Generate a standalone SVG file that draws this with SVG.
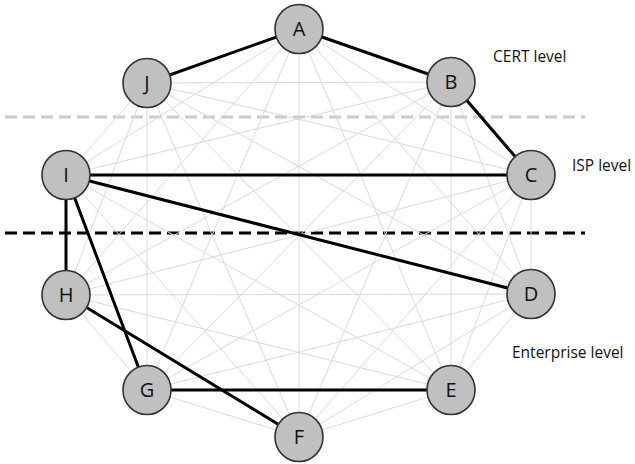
<svg xmlns="http://www.w3.org/2000/svg" width="635" height="464" viewBox="0 0 635 464">
<style>
.bg{fill:#ffffff}
.g line{stroke:#dadada;stroke-width:1}
.k line{stroke:#000;stroke-width:3;stroke-linecap:round}
.n ellipse{fill:#c0c0c0;stroke:#333;stroke-width:1.6}
.n text{font-family:"Open Sans","Noto Sans",sans-serif;font-size:20px;fill:#111;text-anchor:middle}
.lvl{font-family:"Open Sans","Noto Sans",sans-serif;font-size:15.5px;fill:#111}
</style>
<rect class="bg" width="635" height="464"/>
<g id="level-lines">
<line x1="5" y1="117" x2="585" y2="117" stroke="#cccccc" stroke-width="3" stroke-dasharray="12 6"/>
<line x1="5" y1="233" x2="585" y2="233" stroke="#000" stroke-width="3" stroke-dasharray="12 6"/>
</g>
<g id="connectors">
<g class="g">
<line x1="299" y1="29" x2="451" y2="82"/><line x1="299" y1="29" x2="531" y2="175"/><line x1="299" y1="29" x2="531" y2="294"/><line x1="299" y1="29" x2="451" y2="390"/><line x1="299" y1="29" x2="299" y2="437"/><line x1="299" y1="29" x2="147" y2="390"/><line x1="299" y1="29" x2="66" y2="295"/><line x1="299" y1="29" x2="66" y2="175"/><line x1="299" y1="29" x2="147" y2="83"/>
<line x1="451" y1="82" x2="531" y2="175"/><line x1="451" y1="82" x2="531" y2="294"/><line x1="451" y1="82" x2="451" y2="390"/><line x1="451" y1="82" x2="299" y2="437"/><line x1="451" y1="82" x2="147" y2="390"/><line x1="451" y1="82" x2="66" y2="295"/><line x1="451" y1="82" x2="66" y2="175"/><line x1="451" y1="82" x2="147" y2="83"/>
<line x1="531" y1="175" x2="531" y2="294"/><line x1="531" y1="175" x2="451" y2="390"/><line x1="531" y1="175" x2="299" y2="437"/><line x1="531" y1="175" x2="147" y2="390"/><line x1="531" y1="175" x2="66" y2="295"/><line x1="531" y1="175" x2="66" y2="175"/><line x1="531" y1="175" x2="147" y2="83"/>
<line x1="531" y1="294" x2="451" y2="390"/><line x1="531" y1="294" x2="299" y2="437"/><line x1="531" y1="294" x2="147" y2="390"/><line x1="531" y1="294" x2="66" y2="295"/><line x1="531" y1="294" x2="66" y2="175"/><line x1="531" y1="294" x2="147" y2="83"/>
<line x1="451" y1="390" x2="299" y2="437"/><line x1="451" y1="390" x2="147" y2="390"/><line x1="451" y1="390" x2="66" y2="295"/><line x1="451" y1="390" x2="66" y2="175"/><line x1="451" y1="390" x2="147" y2="83"/>
<line x1="299" y1="437" x2="147" y2="390"/><line x1="299" y1="437" x2="66" y2="295"/><line x1="299" y1="437" x2="66" y2="175"/><line x1="299" y1="437" x2="147" y2="83"/>
<line x1="147" y1="390" x2="66" y2="295"/><line x1="147" y1="390" x2="66" y2="175"/><line x1="147" y1="390" x2="147" y2="83"/>
<line x1="66" y1="295" x2="66" y2="175"/><line x1="66" y1="295" x2="147" y2="83"/>
<line x1="66" y1="175" x2="147" y2="83"/>
</g>
<g class="k">
<line x1="299" y1="29" x2="147" y2="83"/>
<line x1="299" y1="29" x2="451" y2="82"/>
<line x1="451" y1="82" x2="531" y2="175"/>
<line x1="66" y1="175" x2="531" y2="175"/>
<line x1="66" y1="175" x2="531" y2="294"/>
<line x1="66" y1="175" x2="66" y2="295"/>
<line x1="66" y1="175" x2="147" y2="390"/>
<line x1="66" y1="295" x2="299" y2="437"/>
<line x1="147" y1="390" x2="451" y2="390"/>
</g>
</g>
<g id="node-A" class="n"><ellipse cx="299" cy="29" rx="24" ry="24.5"/><text x="299" y="36">A</text></g>
<g id="node-B" class="n"><ellipse cx="451" cy="82" rx="24" ry="24.5"/><text x="451" y="89">B</text></g>
<g id="node-C" class="n"><ellipse cx="531" cy="175" rx="24" ry="24.5"/><text x="531" y="182">C</text></g>
<g id="node-D" class="n"><ellipse cx="531" cy="294" rx="24" ry="24.5"/><text x="531" y="301">D</text></g>
<g id="node-E" class="n"><ellipse cx="451" cy="390" rx="24" ry="24.5"/><text x="451" y="397">E</text></g>
<g id="node-F" class="n"><ellipse cx="299" cy="437" rx="24" ry="24.5"/><text x="299" y="444">F</text></g>
<g id="node-G" class="n"><ellipse cx="147" cy="390" rx="24" ry="24.5"/><text x="147" y="397">G</text></g>
<g id="node-H" class="n"><ellipse cx="66" cy="295" rx="24" ry="24.5"/><text x="66" y="302">H</text></g>
<g id="node-I" class="n"><ellipse cx="66" cy="175" rx="24" ry="24.5"/><text x="66" y="182">I</text></g>
<g id="node-J" class="n"><ellipse cx="147" cy="83" rx="24" ry="24.5"/><text x="147" y="90">J</text></g>
<g id="labels">
<text class="lvl" x="493" y="62">CERT level</text>
<text class="lvl" x="572" y="171">ISP level</text>
<text class="lvl" x="512" y="358">Enterprise level</text>
</g>
</svg>
